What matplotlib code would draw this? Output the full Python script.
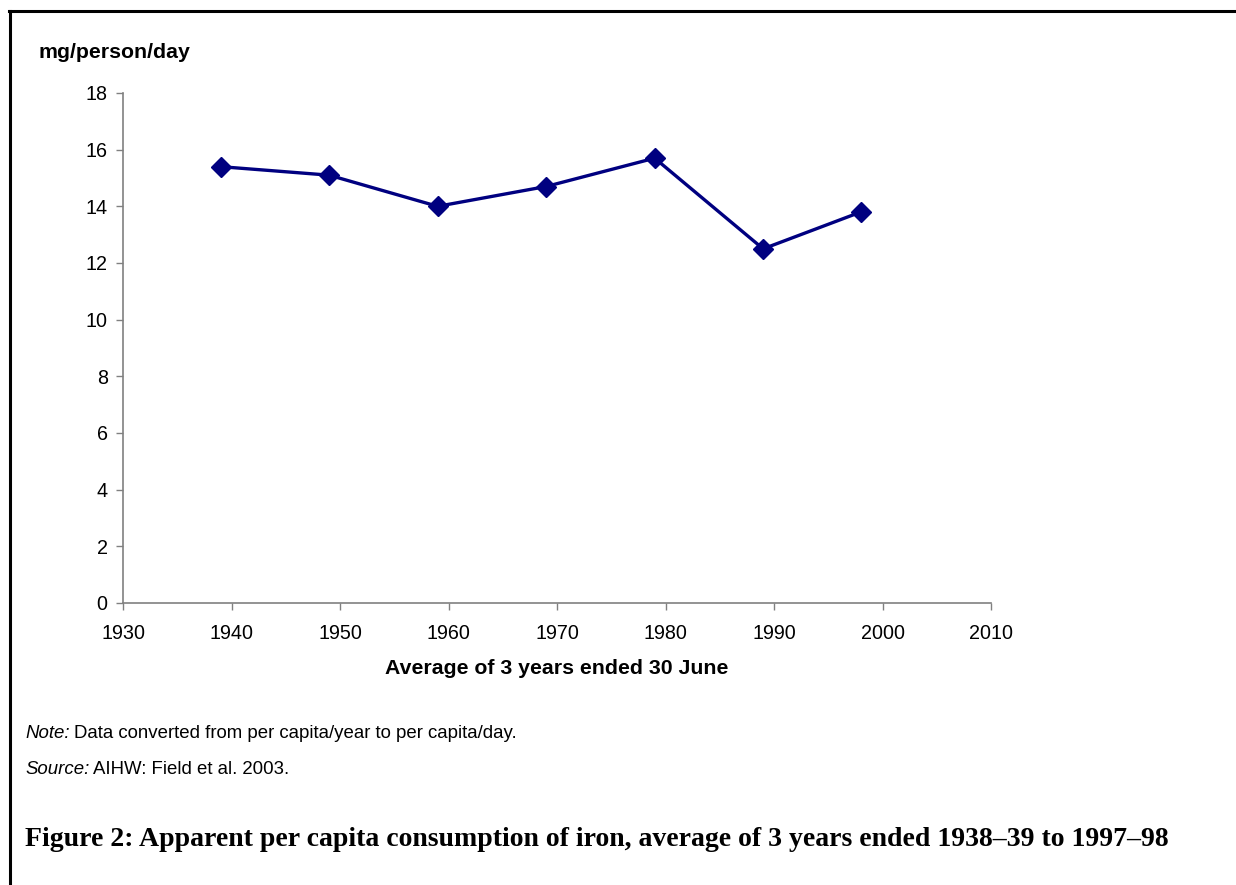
import matplotlib
matplotlib.use("Agg")
import matplotlib.pyplot as plt
from matplotlib.lines import Line2D

# Apparent per capita consumption of iron (mg/person/day)
years = [1939, 1949, 1959, 1969, 1979, 1989, 1998]
iron = [15.4, 15.1, 14.0, 14.7, 15.7, 12.5, 13.8]

x_ticks = [1930, 1940, 1950, 1960, 1970, 1980, 1990, 2000, 2010]
y_ticks = [0, 2, 4, 6, 8, 10, 12, 14, 16, 18]

plt.rcParams['font.family'] = ['Liberation Sans', 'DejaVu Sans']

W, H = 1236, 885
fig = plt.figure(figsize=(W / 100, H / 100), dpi=100)
ax = fig.add_axes([123 / W, 1 - 603 / H, (991 - 123) / W, (603 - 93) / H])

navy = '#000080'
ax.plot(years, iron, color=navy, lw=2.4, marker='D', markersize=10.5,
        markerfacecolor=navy, markeredgecolor=navy, clip_on=False)

ax.set_xlim(1930, 2010)
ax.set_ylim(0, 18)
ax.set_xticks(x_ticks)
ax.set_yticks(y_ticks)
ax.tick_params(axis='both', direction='out', length=5, width=1, color='#808080',
               labelsize=14.2, pad=6)
ax.tick_params(axis='x', pad=10)
for side in ('top', 'right'):
    ax.spines[side].set_visible(False)
for side in ('left', 'bottom'):
    ax.spines[side].set_color('#808080')
    ax.spines[side].set_linewidth(1.2)

ax.set_xlabel('Average of 3 years ended 30 June', fontsize=15.3, fontweight='bold',
              labelpad=12)
fig.text(38 / W, 1 - 53 / H, 'mg/person/day', fontsize=15.3, fontweight='bold',
         ha='left', va='center')

# Footnotes with italic lead-ins
fig.canvas.draw()
renderer = fig.canvas.get_renderer()

def footnote(y_px, lead, rest):
    t = fig.text(25 / W, 1 - y_px / H, lead, fontsize=13.4, style='italic',
                 ha='left', va='center')
    bb = t.get_window_extent(renderer=renderer)
    fig.text(bb.x1 / W + 4 / W, 1 - y_px / H, rest, fontsize=13.4,
             ha='left', va='center')

footnote(733, 'Note:', 'Data converted from per capita/year to per capita/day.')
footnote(769, 'Source:', 'AIHW: Field et al. 2003.')

fig.text(25 / W, 1 - 839 / H,
         'Figure 2: Apparent per capita consumption of iron, average of 3 years ended 1938\u201339 to 1997\u201398',
         fontsize=20, fontweight='bold', family=['Liberation Serif', 'DejaVu Serif'],
         ha='left', va='center')

# Page frame: top and left rules
fig.add_artist(Line2D([10 / W, 10 / W], [0, 1 - 11 / H], color='black', lw=2.2,
                      transform=fig.transFigure))
fig.add_artist(Line2D([9 / W, 1], [1 - 11 / H, 1 - 11 / H], color='black', lw=2.2,
                      transform=fig.transFigure))

fig.savefig('out.png', dpi=100)
